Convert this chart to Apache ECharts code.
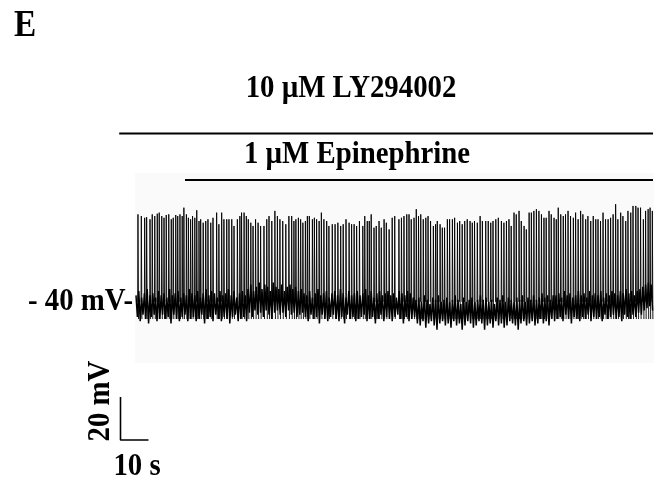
<!DOCTYPE html>
<html>
<head>
<meta charset="utf-8">
<script src="https://cdn.jsdelivr.net/npm/echarts@6/dist/echarts.min.js"></script>
<style>html,body{margin:0;padding:0;background:#fff}#c{width:654px;height:489px}</style>
</head>
<body>
<div id="c"></div>
<script>
// ---- data ----
// spike events: [time s, peak mV]
const spikes = [
[0.7,1.7],[1.9,0.9],[3.1,0.1],[3.8,0.4],[5.0,-0.6],[5.8,1.7],[6.7,0.9],[7.6,2.0],[8.3,2.5],[9.2,0.9],
[10.0,0.1],[10.8,1.4],[11.7,1.7],[12.6,-0.6],[13.3,0.1],[14.2,1.4],[14.9,0.9],[15.7,1.7],[16.5,0.9],[17.1,4.8],
[18.0,1.7],[18.7,0.1],[19.5,-0.6],[20.2,0.9],[21.0,0.1],[21.7,3.6],[22.5,-1.4],[23.1,-0.6],[24.0,-2.2],[24.9,-1.4],
[25.7,-0.6],[26.7,-2.2],[27.5,0.1],[28.8,2.5],[29.6,-2.9],[30.6,2.5],[31.4,-0.6],[32.4,-0.6],[33.2,-0.6],[34.2,-0.6],
[35.0,-3.7],[36.2,-0.6],[37.1,0.9],[37.7,2.5],[38.6,2.5],[39.4,0.9],[40.1,-0.6],[41.0,-2.2],[41.8,-3.7],[42.7,-0.6],
[43.6,-2.2],[44.5,-3.7],[45.7,-3.7],[46.7,-0.6],[47.5,0.9],[48.5,-1.4],[49.6,3.3],[50.5,0.9],[51.4,-0.6],[52.4,-1.4],
[53.5,-2.9],[54.6,0.9],[55.6,0.9],[56.4,-1.4],[57.1,-0.6],[58.0,0.1],[58.8,-0.6],[59.6,-2.2],[60.5,-1.4],[61.2,0.9],
[61.9,0.9],[63.0,-0.6],[63.7,0.1],[64.5,-0.6],[65.4,-1.4],[66.2,2.5],[67.1,-0.6],[68.1,-1.4],[68.9,-3.7],[70.1,-2.9],
[71.1,-2.9],[72.1,-2.2],[73.1,-3.7],[74.0,-2.9],[75.0,-0.6],[76.1,-2.2],[77.0,-2.9],[77.9,-2.9],[78.8,-3.7],[79.8,-1.4],
[81.0,-3.7],[81.7,0.9],[82.6,-1.4],[83.3,-1.4],[84.0,1.7],[85.0,-4.5],[85.8,-3.7],[86.8,-1.4],[87.6,-4.5],[88.6,-0.6],
[89.4,-2.2],[90.4,-5.3],[91.5,0.1],[92.4,0.9],
[93.9,-0.6],[94.8,0.1],[95.7,0.9],[96.7,1.7],[97.5,1.7],[98.3,-0.6],[99.3,0.1],[100.1,4.1],[100.9,0.9],[101.7,1.7],
[102.6,-0.6],[103.5,0.1],[104.3,0.9],[105.2,-1.4],[106.2,-3.7],[107.0,-2.9],[107.6,-1.4],[108.6,-2.9],[109.4,-4.5],[110.2,-4.5],
[111.2,-0.6],[112.0,-0.6],[113.0,-0.6],[113.8,0.1],[114.8,-2.2],[115.6,-1.4],[116.5,-2.9],[117.4,-1.4],[118.3,-0.6],[119.3,-1.4],
[120.1,-2.2],[120.9,-1.4],[121.9,-2.2],[122.9,0.9],[123.7,-1.4],[124.9,-1.4],[125.8,-1.4],[126.7,-2.2],[127.5,-1.4],[128.5,-0.6],
[129.4,0.1],[130.5,-1.4],[131.4,-2.2],[132.3,-1.4],[133.2,-0.6],[134.0,-3.7],[135.0,2.5],[135.8,1.7],[136.8,3.3],[137.6,-1.4],
[138.6,-3.7],[139.4,-5.3],[140.4,2.5],[141.2,2.5],[142.1,3.3],[143.0,4.1],[143.9,3.3],[144.8,1.7],[145.7,0.1],[146.5,0.1],
[147.5,3.3],[148.3,1.7],[149.3,0.1],[150.1,-0.6],[150.8,4.8],[151.7,1.7],[152.6,0.9],[153.4,1.7],[154.3,3.3],[155.2,0.9],
[156.2,0.1],[157.0,2.5],[157.9,-0.6],[158.8,3.3],[159.6,1.7],[160.6,-0.6],[161.4,0.9],[162.4,-1.4],[163.3,0.9],[164.2,-0.6],
[165.0,-0.6],[165.9,-1.4],[166.8,2.5],[167.7,-0.6],[168.6,-0.6],[169.5,0.1],[170.4,1.7],[171.3,6.4],[172.1,-0.6],[173.1,2.5],
[173.9,0.9],[174.9,-1.4],[175.7,3.3],[176.7,2.5],[177.5,5.6],[178.5,5.6],[179.3,4.8],[180.2,4.8],[181.2,-0.6],[182.0,3.3],
[182.9,4.1],[183.6,4.8],[184.4,3.3]
];
const spikeOnset = -39; // mV, where each spike leaves the baseline
const spikeAhp = -47;   // mV, undershoot after each spike

// baseline noise envelope, one value per second (t = 0..184), mV
const noiseHi = [
-36,-34,-37,-35,-33,-36,-35,-37,-34,-36,
-35,-37,-33,-36,-35,-34,-37,-35,-36,-33,
-35,-36,-34,-37,-35,-33,-36,-34,-35,-37,
-34,-36,-35,-33,-36,-34,-37,-35,-34,-36,
-33,-31,-34,-32,-30,-33,-31,-32,-34,-30,
-32,-33,-31,-34,-32,-31,-33,-32,-34,-33,
-35,-36,-34,-37,-35,-33,-36,-35,-34,-37,
-35,-34,-36,-33,-35,-37,-34,-36,-35,-34,
-36,-35,-33,-36,-34,-37,-35,-34,-36,-35,
-34,-36,-35,-37,-34,-35,-36,-34,-35,-37,
-38,-37,-39,-36,-38,-40,-37,-38,-36,-39,
-38,-37,-39,-38,-36,-38,-40,-37,-39,-38,
-37,-39,-38,-36,-38,-37,-39,-38,-40,-37,
-38,-36,-39,-37,-38,-39,-37,-38,-36,-39,
-37,-38,-36,-38,-37,-35,-37,-36,-38,-36,
-36,-35,-37,-34,-36,-35,-37,-36,-34,-36,
-35,-37,-34,-36,-35,-36,-34,-37,-35,-36,
-34,-35,-36,-34,-35,-33,-35,-34,-36,-34,
-33,-32,-31,-30,-31
];
const noiseLo = [
-46,-48,-45,-47,-49,-46,-45,-48,-47,-45,
-47,-46,-49,-45,-47,-48,-46,-45,-48,-47,
-46,-48,-47,-45,-49,-47,-46,-48,-45,-47,
-48,-46,-47,-49,-46,-45,-48,-47,-46,-48,
-44,-46,-43,-45,-44,-46,-43,-45,-47,-44,
-43,-45,-44,-46,-43,-45,-44,-46,-45,-44,
-46,-48,-45,-47,-46,-49,-45,-47,-48,-46,
-45,-47,-48,-46,-49,-45,-47,-46,-48,-47,
-46,-45,-48,-47,-46,-49,-47,-45,-48,-46,
-47,-48,-46,-45,-47,-49,-46,-48,-47,-46,
-49,-50,-48,-51,-49,-48,-50,-52,-49,-48,
-50,-49,-51,-48,-50,-49,-52,-50,-48,-49,
-51,-50,-48,-49,-52,-50,-49,-51,-48,-50,
-49,-51,-50,-48,-49,-50,-52,-49,-48,-50,
-49,-48,-50,-49,-47,-49,-48,-50,-47,-48,
-47,-46,-48,-45,-47,-49,-46,-47,-48,-46,
-47,-45,-48,-46,-47,-46,-48,-45,-47,-46,
-45,-47,-46,-48,-45,-46,-47,-45,-46,-44,
-45,-43,-42,-41,-43
];
const traceEnd = 185;          // s
const drugLY = {label: '10 \u00b5M LY294002', start: -6, end: 185};
const drugEpi = {label: '1 \u00b5M Epinephrine', start: 17.5, end: 185};
const scaleBarX = 10;  // s
const scaleBarY = 20;  // mV
const restLabel = '- 40 mV-';
const panelLabel = 'E';

// ---- build trace parts ----
const noiseTrace = [];
for (let i = 0; i < noiseHi.length; i++) {
  noiseTrace.push([i, noiseHi[i]]);
  noiseTrace.push([i + 0.5, noiseLo[i]]);
}
const spikeTrace = [];
spikes.forEach(s => {
  spikeTrace.push([s[0] - 0.1, spikeOnset]);
  spikeTrace.push([s[0], s[1]]);
  spikeTrace.push([s[0] + 0.2, spikeAhp]);
  spikeTrace.push([s[0] + 0.2, '-']);
});

const FONT = '"Liberation Serif","Times New Roman",serif';
const chart = echarts.init(document.getElementById('c'), null, {renderer: 'canvas'});
const G = {left: 136, top: 175, width: 518, height: 172};
chart.setOption({
  animation: false,
  backgroundColor: '#fff',
  grid: [
    {left: G.left, top: G.top, width: G.width, height: G.height, show: false},
    {left: 120.5, top: 397, width: 28, height: 43, show: false}
  ],
  xAxis: [
    {gridIndex: 0, type: 'value', min: 0, max: traceEnd, show: false},
    {gridIndex: 1, type: 'value', min: 0, max: scaleBarX, show: false}
  ],
  yAxis: [
    {gridIndex: 0, type: 'value', min: -60, max: 20, show: false},
    {gridIndex: 1, type: 'value', min: 0, max: scaleBarY, show: false}
  ],
  series: [
    {type: 'line', xAxisIndex: 0, yAxisIndex: 0, data: noiseTrace, showSymbol: false, symbol: 'none',
     sampling: null, lineStyle: {color: '#000', width: 1.5}, silent: true, z: 3},
    {type: 'line', xAxisIndex: 0, yAxisIndex: 0, data: spikeTrace, showSymbol: false, symbol: 'none',
     connectNulls: false, sampling: null, lineStyle: {color: '#000', width: 0.9}, silent: true, z: 4},
    {type: 'line', xAxisIndex: 1, yAxisIndex: 1, data: [[0, scaleBarY], [0, 0], [scaleBarX, 0]],
     showSymbol: false, symbol: 'none', clip: false, lineStyle: {color: '#000', width: 1.6}, silent: true}
  ]
});

function drawAnnotations() {
  const px = t => chart.convertToPixel({xAxisIndex: 0}, t);
  const ly0 = px(drugLY.start), ly1 = px(drugLY.end);
  const ep0 = px(drugEpi.start), ep1 = px(drugEpi.end);
  const txt = (text, x, y, size, align, rot) => ({
    type: 'text', x: x, y: y, rotation: rot || 0, scaleX: 0.9,
    style: {text: text, font: 'bold ' + size + 'px ' + FONT, fill: '#000', align: align || 'center', verticalAlign: 'middle'}
  });
  chart.setOption({
    graphic: [
      {type: 'rect', shape: {x: 135, y: 173, width: 519, height: 190}, style: {fill: '#fafafa'}, z: -10},
      txt(panelLabel, 14, 26, 37, 'left'),
      txt(drugLY.label, 351, 89, 32),
      {type: 'line', shape: {x1: ly0, y1: 133.5, x2: ly1 - 1, y2: 133.5}, style: {stroke: '#000', lineWidth: 2}},
      txt(drugEpi.label, 357, 155, 32),
      {type: 'line', shape: {x1: ep0, y1: 180, x2: ep1 - 1, y2: 180}, style: {stroke: '#000', lineWidth: 2}},
      txt(restLabel, 133, 302, 32, 'right'),
      txt('20 mV', 101, 401, 32, 'center', Math.PI / 2),
      txt('10 s', 137, 467, 32)
    ]
  });
}
drawAnnotations();
</script>
</body>
</html>
